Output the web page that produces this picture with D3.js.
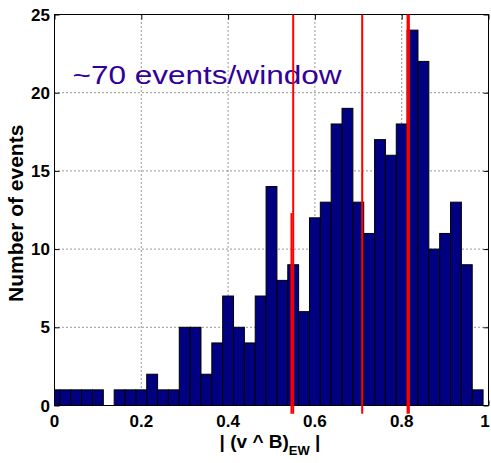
<!DOCTYPE html>
<html>
<head>
<meta charset="utf-8">
<script src="https://cdn.jsdelivr.net/npm/d3@7"></script>
<style>
  html, body { margin: 0; padding: 0; background: #fff; }
  svg { display: block; }
</style>
</head>
<body>
<svg id="chart" width="491" height="463"></svg>
<script>
// ---- data ----
const binCenters = [0, 0.025, 0.05, 0.075, 0.1, 0.125, 0.15, 0.175, 0.2, 0.225,
  0.25, 0.275, 0.3, 0.325, 0.35, 0.375, 0.4, 0.425, 0.45, 0.475,
  0.5, 0.525, 0.55, 0.575, 0.6, 0.625, 0.65, 0.675, 0.7, 0.725,
  0.75, 0.775, 0.8, 0.825, 0.85, 0.875, 0.9, 0.925, 0.95, 0.975, 1.0];
const counts = [1, 1, 1, 1, 1, 0, 1, 1, 1, 2,
  1, 1, 5, 5, 2, 4, 7, 5, 4, 7,
  14, 8, 9, 6, 12, 13, 18, 19, 13, 11,
  17, 16, 18, 24, 22, 10, 11, 13, 9, 1, 0];
const binWidth = 0.025;
const xTicks = [0, 0.2, 0.4, 0.6, 0.8, 1];
const xTickLabels = ["0", "0.2", "0.4", "0.6", "0.8", "1"];
const yTicks = [0, 5, 10, 15, 20, 25];
const yTickLabels = ["0", "5", "10", "15", "20", "25"];
const redX = [0.550, 0.546, 0.709, 0.815];
const redTop = [25, 12.3, 25, 25];
const redBottom = [-0.53, -0.53, -0.53, -0.53];
const annotation = "~70 events/window";
const yLabel = "Number of events";

(function () {
// ---- layout ----
const svg = d3.select("#chart");
const pL = 54.5, pR = 488.5, pT = 14.5, pB = 405.5;
const x = d3.scaleLinear().domain([0, 1]).range([pL, pR]);
const y = d3.scaleLinear().domain([0, 25]).range([pB, pT]);
const font = "'Liberation Sans', Arial, Helvetica, sans-serif";

svg.append("rect").attr("width", 491).attr("height", 463).attr("fill", "#fff");

svg.append("defs").append("clipPath").attr("id", "plotclip")
  .append("rect").attr("x", pL).attr("y", 0).attr("width", pR - pL).attr("height", 463);

// grid (behind bars)
const grid = svg.append("g");
grid.selectAll("line.gx").data(xTicks.filter(d => d > 0 && d < 1)).join("line")
  .attr("class", "gx")
  .attr("x1", d => x(d)).attr("x2", d => x(d))
  .attr("y1", pT).attr("y2", pB)
  .attr("stroke", "#333").attr("stroke-width", 1).attr("stroke-dasharray", "1,3");
grid.selectAll("line.gy").data(yTicks.filter(d => d > 0 && d < 25)).join("line")
  .attr("class", "gy")
  .attr("x1", pL).attr("x2", pR)
  .attr("y1", d => y(d)).attr("y2", d => y(d))
  .attr("stroke", "#333").attr("stroke-width", 1).attr("stroke-dasharray", "1,3");

// ticks via axes (inward)
const tl = 5;
svg.append("g").attr("transform", `translate(0,${pB})`)
  .call(d3.axisTop(x).tickValues(xTicks).tickSize(tl).tickFormat(""))
  .call(g => g.select(".domain").remove());
svg.append("g").attr("transform", `translate(0,${pT})`)
  .call(d3.axisBottom(x).tickValues(xTicks).tickSize(tl).tickFormat(""))
  .call(g => g.select(".domain").remove());
svg.append("g").attr("transform", `translate(${pL},0)`)
  .call(d3.axisRight(y).tickValues(yTicks).tickSize(tl).tickFormat(""))
  .call(g => g.select(".domain").remove());
svg.append("g").attr("transform", `translate(${pR},0)`)
  .call(d3.axisLeft(y).tickValues(yTicks).tickSize(tl).tickFormat(""))
  .call(g => g.select(".domain").remove());

// bars
svg.append("g").attr("clip-path", "url(#plotclip)")
  .selectAll("rect").data(binCenters.map((c, i) => ({c, v: counts[i]})).filter(d => d.v > 0))
  .join("rect")
  .attr("x", d => x(d.c - binWidth / 2))
  .attr("width", d => x(d.c + binWidth / 2) - x(d.c - binWidth / 2))
  .attr("y", d => y(d.v))
  .attr("height", d => y(0) - y(d.v))
  .attr("fill", "#000080")
  .attr("stroke", "#000").attr("stroke-width", 1);

// box
svg.append("rect").attr("x", pL).attr("y", pT)
  .attr("width", pR - pL).attr("height", pB - pT)
  .attr("fill", "none").attr("stroke", "#000").attr("stroke-width", 1);

// tick labels
svg.append("g").selectAll("text").data(xTicks).join("text")
  .attr("x", d => Math.min(x(d), 485)).attr("y", 427)
  .attr("text-anchor", "middle")
  .attr("font-family", font).attr("font-size", 17).attr("font-weight", "bold")
  .text((d, i) => xTickLabels[i]);
svg.append("g").selectAll("text").data(yTicks).join("text")
  .attr("x", 50).attr("y", d => y(d) + 6)
  .attr("text-anchor", "end")
  .attr("font-family", font).attr("font-size", 17).attr("font-weight", "bold")
  .text((d, i) => yTickLabels[i]);

// axis labels
const xl = svg.append("text").attr("x", 270).attr("y", 448)
  .attr("text-anchor", "middle")
  .attr("font-family", font).attr("font-size", 19).attr("font-weight", "bold");
xl.append("tspan").text("| (v ^ B)");
xl.append("tspan").attr("font-size", 13).attr("dy", 7).text("EW");
xl.append("tspan").attr("dy", -7).text(" |");

svg.append("text")
  .attr("transform", "translate(23,302) rotate(-90)")
  .attr("text-anchor", "start")
  .attr("font-family", font).attr("font-size", 21).attr("font-weight", "bold")
  .text(yLabel);

// annotation
svg.append("text").attr("x", 72.5).attr("y", 84)
  .attr("font-family", font).attr("font-size", 26.5)
  .attr("fill", "#330099")
  .attr("textLength", 269).attr("lengthAdjust", "spacingAndGlyphs")
  .text(annotation);

// red lines
const redW = [2, 2, 2, 3.3];
svg.append("g").selectAll("line").data(redX).join("line")
  .attr("x1", d => x(d)).attr("x2", d => x(d))
  .attr("y1", (d, i) => y(redTop[i])).attr("y2", (d, i) => y(redBottom[i]))
  .attr("stroke", "#ff0000").attr("stroke-width", (d, i) => redW[i]);
})();
</script>
</body>
</html>
